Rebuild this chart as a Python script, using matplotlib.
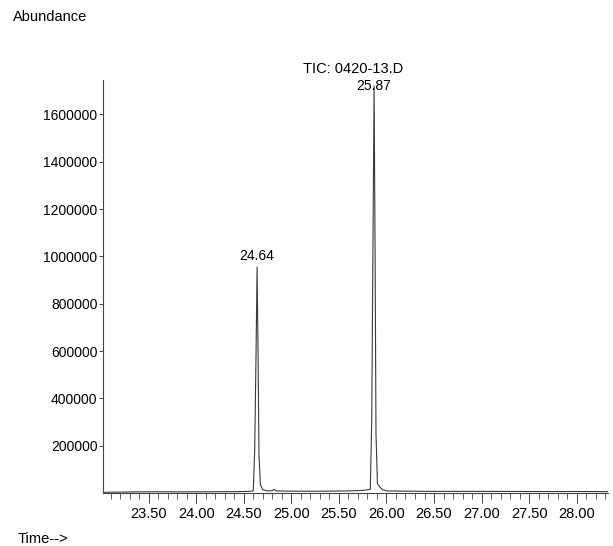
import matplotlib.pyplot as plt
from matplotlib.ticker import MultipleLocator, FixedLocator

plt.rcParams['font.family'] = ['Liberation Sans', 'DejaVu Sans']

# TIC trace, time (min) vs abundance
time = [23.02, 23.20, 23.40, 23.60, 23.80, 24.00, 24.20, 24.40, 24.55, 24.60,
        24.615, 24.63, 24.64, 24.65, 24.66, 24.675, 24.70, 24.75, 24.80, 24.82,
        24.84, 25.00, 25.20, 25.40, 25.60, 25.75, 25.83, 25.845, 25.86, 25.87,
        25.88, 25.89, 25.905, 25.93, 25.96, 26.00, 26.20, 26.50, 27.00, 27.50,
        28.00, 28.33]
abundance = [3000, 4000, 5000, 5500, 5000, 5000, 5500, 6000, 7000, 9000,
             180000, 620000, 955000, 600000, 160000, 35000, 14000, 9000, 10000, 16000,
             9000, 8000, 7500, 8000, 9000, 11000, 16000, 300000, 1150000, 1720000,
             1050000, 250000, 40000, 25000, 14000, 9000, 8000, 7000, 7000, 6500,
             6500, 6000]

peaks = [24.64, 25.87]
file_name = "TIC: 0420-13.D"

fig = plt.figure(figsize=(6.13, 5.46), dpi=100)
ax = fig.add_axes([0.168, 0.097, 0.824, 0.756])

ax.plot(time, abundance, color='#3a3a3a', lw=0.8)
ax.set_xlim(23.02, 28.33)
ax.set_ylim(0, 1744000)

ax.xaxis.set_major_locator(FixedLocator([23.5, 24.0, 24.5, 25.0, 25.5, 26.0, 26.5, 27.0, 27.5, 28.0]))
ax.xaxis.set_minor_locator(MultipleLocator(0.1))
ax.xaxis.set_major_formatter(plt.FuncFormatter(lambda v, p: "%.2f" % v))
ax.yaxis.set_major_locator(FixedLocator([200000, 400000, 600000, 800000, 1000000,
                                         1200000, 1400000, 1600000]))
ax.yaxis.set_major_formatter(plt.FuncFormatter(lambda v, p: "%d" % v))

ax.tick_params(axis='x', which='major', length=7, width=0.7, direction='out', labelsize=10.5, pad=3, color='#444')
ax.tick_params(axis='x', which='minor', length=4, width=0.6, direction='out', color='#444')
ax.tick_params(axis='y', which='major', length=3, width=0.7, direction='out', labelsize=10, pad=1, color='#444')

for s in ['top', 'right']:
    ax.spines[s].set_visible(False)
for s in ['left', 'bottom']:
    ax.spines[s].set_color('#444')
    ax.spines[s].set_linewidth(0.8)

# retention time labels (the big one sits over its own peak)
label_y = [970000, 1690000]
for t, ly in zip(peaks, label_y):
    ax.text(t, ly, "%.2f" % t, ha='center', va='bottom', fontsize=10)

fig.text(0.494, 0.8745, file_name, ha='left', va='center', fontsize=10.5)
fig.text(0.021, 0.969, "Abundance", ha='left', va='center', fontsize=10.5)
fig.text(0.028, 0.013, "Time-->", ha='left', va='center', fontsize=10.5)

fig.savefig("out.png", dpi=100)
